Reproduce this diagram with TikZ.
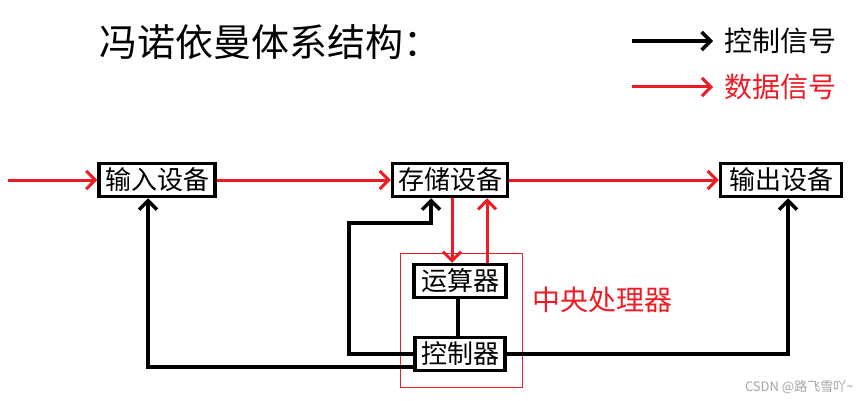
\documentclass[tikz,border=0pt]{standalone}
\usepackage{fontspec}
\newfontfamily\cjk{Noto Sans CJK SC}
\usetikzlibrary{arrows.meta, positioning}
\definecolor{sigred}{RGB}{237,28,36}

\begin{document}
\begin{tikzpicture}[
    x=1pt, y=-1pt,
    dev/.style={rectangle, draw, line width=3.5pt, inner sep=1pt, minimum height=33pt, font=\cjk\fontsize{26}{26}\selectfont},
    ctrlsig/.style={-{Straight Barb[length=9pt,width=18pt]}, line width=3.5pt},
    datasig/.style={-{Straight Barb[length=9pt,width=18pt]}, line width=3pt, sigred}
]
\useasboundingbox[fill=white] (0,0) rectangle (859,401);

% title and legend
\node[anchor=west, font=\cjk\fontsize{38}{38}\selectfont] (title) at (96,42) {冯诺依曼体系结构：};
\coordinate (ctrlstart) at (632,41);
\coordinate (datastart) at (632,87);
\node[anchor=west, font=\cjk\fontsize{28}{28}\selectfont] (ctrllabel) at (721,41) {控制信号};
\node[anchor=west, text=sigred, font=\cjk\fontsize{28}{28}\selectfont] (datalabel) at (721,87) {数据信号};

% devices
\node[dev, minimum width=116pt] (input) at (157,180) {输入设备};
\node[dev, minimum width=115pt] (memory) at (450,180) {存储设备};
\node[dev, minimum width=121pt] (output) at (781,180) {输出设备};
\node[dev, minimum width=92pt] (alu) at (460,281) {运算器};
\node[dev, minimum width=90pt] (ctrlunit) at (460,354) {控制器};
\node[draw=sigred, line width=1pt, minimum width=122pt, minimum height=134pt] (cpu) at (461.5,320.5) {};
\node[text=sigred, font=\cjk\fontsize{28}{28}\selectfont] (cpulabel) at (602,300) {中央处理器};
\node[anchor=east, text=black!35, font=\cjk\fontsize{13}{13}\selectfont] (mark) at (857,387) {CSDN @路飞雪吖\textasciitilde};

% data signals
\coordinate (source) at (8,180);
\draw[datasig] (source) -- (input);
\draw[datasig] (input) -- (memory);
\draw[datasig] (memory) -- (output);
\draw[datasig] ([xshift=2pt]memory.south) -- ([xshift=2pt]memory.south |- alu.north);
\draw[datasig] ([xshift=27pt]alu.north) -- ([xshift=27pt]alu.north |- memory.south);

% control signals
\coordinate (bend) at (349,223);
\draw[line width=3.5pt] ([xshift=-2pt]alu.south) -- ([xshift=-2pt]ctrlunit.north);
\draw[ctrlsig] ([yshift=-13pt]ctrlunit.west) -| ([xshift=-9pt]input.south);
\draw[ctrlsig] (ctrlunit.west) -| (bend) -| ([xshift=-19pt]memory.south);
\draw[ctrlsig] (ctrlunit.east) -| ([xshift=7pt]output.south);

% legend arrows
\draw[ctrlsig, shorten >=8pt] (ctrlstart) -- (ctrllabel.west);
\draw[datasig, shorten >=8pt] (datastart) -- (datalabel.west);
\end{tikzpicture}
\end{document}
